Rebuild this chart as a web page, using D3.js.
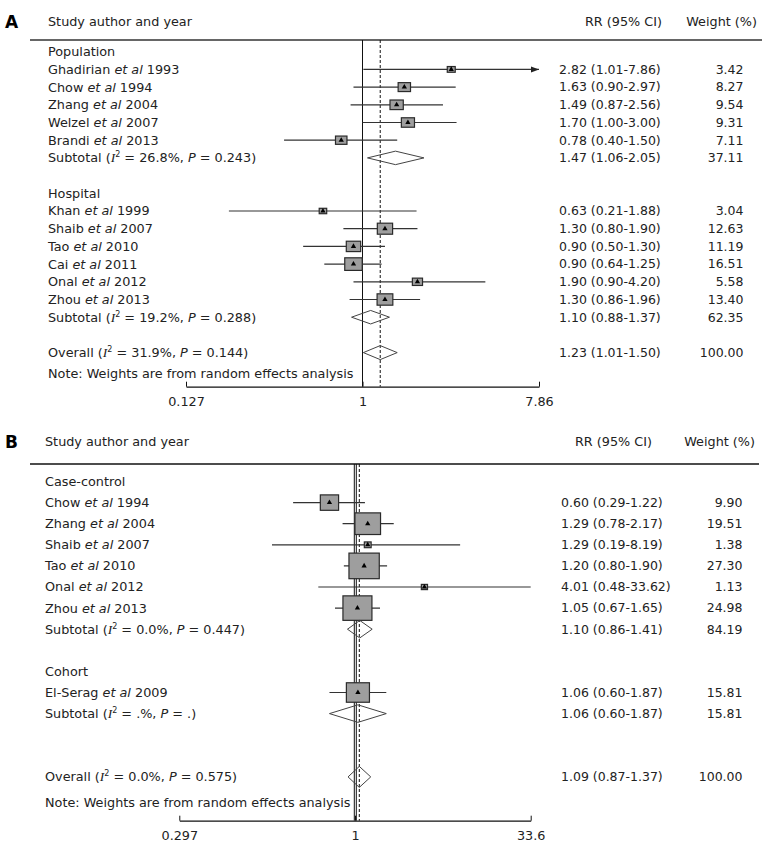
<!DOCTYPE html>
<html><head><meta charset="utf-8">
<script src="https://cdn.jsdelivr.net/npm/d3@7"></script>
<style>body{margin:0;background:#fff}svg{display:block}</style>
</head><body><svg id="c" width="768" height="854"></svg>
<script>
// ---------- Panel A data ----------
const groupsA = ["Population", "Hospital"];
const authorsA = ["Ghadirian", "Chow", "Zhang", "Welzel", "Brandi", "Khan", "Shaib", "Tao", "Cai", "Onal", "Zhou"];
const yearsA = [1993, 1994, 2004, 2007, 2013, 1999, 2007, 2010, 2011, 2012, 2013];
const studyGroupA = ["Population", "Population", "Population", "Population", "Population", "Hospital", "Hospital", "Hospital", "Hospital", "Hospital", "Hospital"];
const rrA = [2.82, 1.63, 1.49, 1.70, 0.78, 0.63, 1.30, 0.90, 0.90, 1.90, 1.30];
const loA = [1.01, 0.90, 0.87, 1.00, 0.40, 0.21, 0.80, 0.50, 0.64, 0.90, 0.86];
const hiA = [7.86, 2.97, 2.56, 3.00, 1.50, 1.88, 1.90, 1.30, 1.25, 4.20, 1.96];
const weightA = [3.42, 8.27, 9.54, 9.31, 7.11, 3.04, 12.63, 11.19, 16.51, 5.58, 13.40];
const arrowA = ["Ghadirian"];
const subRRA = [1.47, 1.10], subLoA = [1.06, 0.88], subHiA = [2.05, 1.37], subWA = [37.11, 62.35];
const subI2A = ["26.8%", "19.2%"], subPA = ["0.243", "0.288"];
const overallA = {rr: 1.23, lo: 1.01, hi: 1.50, w: 100.00, i2: "31.9%", p: "0.144"};
const tickValuesA = [1 / 7.86, 1, 7.86];
const tickLabelsA = ["0.127", "1", "7.86"];

// ---------- Panel B data ----------
const groupsB = ["Case-control", "Cohort"];
const authorsB = ["Chow", "Zhang", "Shaib", "Tao", "Onal", "Zhou", "El-Serag"];
const yearsB = [1994, 2004, 2007, 2010, 2012, 2013, 2009];
const studyGroupB = ["Case-control", "Case-control", "Case-control", "Case-control", "Case-control", "Case-control", "Cohort"];
const rrB = [0.60, 1.29, 1.29, 1.20, 4.01, 1.05, 1.06];
const loB = [0.29, 0.78, 0.19, 0.80, 0.48, 0.67, 0.60];
const hiB = [1.22, 2.17, 8.19, 1.90, 33.62, 1.65, 1.87];
const weightB = [9.90, 19.51, 1.38, 27.30, 1.13, 24.98, 15.81];
const arrowB = [];
const subRRB = [1.10, 1.06], subLoB = [0.86, 0.60], subHiB = [1.41, 1.87], subWB = [84.19, 15.81];
const subI2B = ["0.0%", ".%"], subPB = ["0.447", "."];
const overallB = {rr: 1.09, lo: 0.87, hi: 1.37, w: 100.00, i2: "0.0%", p: "0.575"};
const tickValuesB = [1 / 33.6, 1, 33.6];
const tickLabelsB = ["0.297", "1", "33.6"];

const svg = d3.select("#c");
const FONT = "DejaVu Sans, Verdana, sans-serif";
const FS = "12.8px";

function buildRows(p) {
  const rows = []; let r = 0;
  p.groups.forEach((g, gi) => {
    rows.push({type: "group", label: g, row: r++});
    p.authors.forEach((a, i) => {
      if (p.studyGroup[i] === g) rows.push({type: "study", author: a, year: p.years[i], rr: p.rr[i], lo: p.lo[i], hi: p.hi[i], w: p.weight[i], arrow: p.arrow.includes(a), row: r++});
    });
    rows.push({type: "sub", i2: p.subI2[gi], pv: p.subP[gi], rr: p.subRR[gi], lo: p.subLo[gi], hi: p.subHi[gi], w: p.subW[gi], row: r++});
    r += 1;
  });
  r += p.extraGap;
  rows.push({type: "overall", i2: p.overall.i2, pv: p.overall.p, rr: p.overall.rr, lo: p.overall.lo, hi: p.overall.hi, w: p.overall.w, row: r++});
  return rows;
}

function statLabel(t, prefix, i2, pv) {
  t.append("tspan").text(prefix + " (");
  t.append("tspan").attr("font-style", "italic").attr("font-family", "Liberation Serif, serif").attr("font-size", "13.5px").text("I");
  t.append("tspan").attr("font-size", "8px").attr("dy", "-5").text("2");
  t.append("tspan").attr("dy", "5").text(" = " + i2 + ", ");
  t.append("tspan").attr("font-style", "italic").text("P");
  t.append("tspan").text(" = " + pv + ")");
}

function drawPanel(p) {
  const g = svg.append("g");
  const rows = buildRows(p);
  const x = d3.scaleLog().domain([p.tickValues[0], p.tickValues[2]]).range(p.xRange);
  const y = d3.scaleLinear().domain([0, 1]).range([p.y0, p.y0 + p.step]);

  g.append("text").attr("x", 5).attr("y", p.headY + 6).attr("font-family", FONT).attr("font-weight", "bold").attr("font-size", "17px").text(p.letter);
  g.append("text").attr("x", p.textX).attr("y", p.headY).attr("dy", "0.35em").attr("font-family", FONT).attr("font-size", FS).attr("fill", "#222").text("Study author and year");
  g.append("text").attr("x", p.rrHeadX).attr("y", p.headY).attr("dy", "0.35em").attr("text-anchor", "end").attr("font-family", FONT).attr("font-size", FS).attr("fill", "#222").text("RR (95% CI)");
  g.append("text").attr("x", p.wHeadX).attr("y", p.headY).attr("dy", "0.35em").attr("text-anchor", "end").attr("font-family", FONT).attr("font-size", FS).attr("fill", "#222").text("Weight (%)");
  g.append("line").attr("x1", 30).attr("x2", p.lineEnd).attr("y1", p.lineY).attr("y2", p.lineY).attr("stroke", p.lineColor).attr("stroke-width", p.lineW);

  p.nullOffsets.forEach(o => {
    g.append("line").attr("x1", x(1) + o).attr("x2", x(1) + o).attr("y1", p.lineY).attr("y2", p.axisY).attr("stroke", "#111").attr("stroke-width", 1);
  });
  g.append("line").attr("x1", x(p.overall.rr)).attr("x2", x(p.overall.rr)).attr("y1", p.lineY).attr("y2", p.axisY).attr("stroke", "#111").attr("stroke-width", 1).attr("stroke-dasharray", "3,2");

  const axis = d3.axisBottom(x).tickValues(p.tickValues).tickFormat((d, i) => p.tickLabels[i]).tickSizeInner(-5).tickSizeOuter(0).tickPadding(10);
  const ag = g.append("g").attr("transform", `translate(0,${p.axisY})`).call(axis);
  ag.select(".domain").attr("stroke", "#111").attr("stroke-width", 1.3);
  ag.selectAll(".tick line").attr("stroke", "#111");
  ag.selectAll(".tick text").attr("font-family", FONT).attr("font-size", FS).attr("fill", "#222");

  rows.forEach(d => {
    const t = g.append("text").attr("x", p.textX).attr("y", y(d.row)).attr("dy", "0.35em").attr("font-family", FONT).attr("font-size", FS).attr("fill", "#222");
    if (d.type === "group") t.text(d.label);
    else if (d.type === "study") {
      t.append("tspan").text(d.author + " ");
      t.append("tspan").attr("font-style", "italic").text("et al");
      t.append("tspan").text(" " + d.year);
    } else statLabel(t, d.type === "sub" ? "Subtotal" : "Overall", d.i2, d.pv);
    if (d.type !== "group") {
      g.append("text").attr("x", p.rrX).attr("y", y(d.row)).attr("dy", "0.35em").attr("font-family", FONT).attr("font-size", "12.5px").attr("fill", "#222")
        .text(`${d.rr.toFixed(2)} (${d.lo.toFixed(2)}-${d.hi.toFixed(2)})`);
      g.append("text").attr("x", p.wX).attr("y", y(d.row)).attr("dy", "0.35em").attr("text-anchor", "end").attr("font-family", FONT).attr("font-size", "12.5px").attr("fill", "#222")
        .text(d.w.toFixed(2));
    }
  });
  g.append("text").attr("x", p.textX).attr("y", y(p.noteRow)).attr("dy", "0.35em").attr("font-family", FONT).attr("font-size", FS).attr("fill", "#222").text("Note: Weights are from random effects analysis");

  const studies = rows.filter(d => d.type === "study");
  studies.forEach(d => {
    const yy = y(d.row);
    g.append("line").attr("x1", x(d.lo)).attr("x2", x(Math.min(d.hi, p.tickValues[2]))).attr("y1", yy).attr("y2", yy).attr("stroke", "#333").attr("stroke-width", 1.2);
    if (d.arrow) {
      const xe = x(p.tickValues[2]);
      g.append("path").attr("d", `M${xe},${yy} L${xe - 8},${yy - 3} L${xe - 8},${yy + 3} Z`).attr("fill", "#222");
    }
  });
  studies.forEach(d => {
    const yy = y(d.row), s = Math.sqrt(d.w);
    const bw = p.boxW * s, bh = p.boxH * s;
    g.append("rect").attr("x", x(d.rr) - bw / 2).attr("y", yy - bh / 2).attr("width", bw).attr("height", bh).attr("fill", "#9e9e9e").attr("stroke", "#2a2a2a").attr("stroke-width", 1.2);
    g.append("path").attr("d", d3.symbol(d3.symbolTriangle, 12)()).attr("transform", `translate(${x(d.rr)},${yy})`).attr("fill", "#000");
  });
  rows.filter(d => d.type === "sub" || d.type === "overall").forEach(d => {
    const yy = y(d.row);
    const h = d.type === "overall" ? p.diaHO : p.diaH;
    g.append("path").attr("d", `M${x(d.lo)},${yy} L${x(d.rr)},${yy - h / 2} L${x(d.hi)},${yy} L${x(d.rr)},${yy + h / 2} Z`)
      .attr("fill", "none").attr("stroke", "#444").attr("stroke-width", 1);
  });
}

drawPanel({
  letter: "A", groups: groupsA, authors: authorsA, years: yearsA, studyGroup: studyGroupA, rr: rrA, lo: loA, hi: hiA, weight: weightA, arrow: arrowA,
  subRR: subRRA, subLo: subLoA, subHi: subHiA, subW: subWA, subI2: subI2A, subP: subPA, overall: overallA,
  tickValues: tickValuesA, tickLabels: tickLabelsA, extraGap: 0, noteRow: 18.2,
  xRange: [186, 539], y0: 51.7, step: 17.7, headY: 22, lineY: 40, axisY: 386.7, lineEnd: 762, lineColor: "#666", lineW: 2,
  textX: 48, rrX: 559, wX: 743.5, rrHeadX: 662, wHeadX: 757, nullOffsets: [0],
  boxW: 4.3, boxH: 3.1, diaH: 13.5, diaHO: 14
});
drawPanel({
  letter: "B", groups: groupsB, authors: authorsB, years: yearsB, studyGroup: studyGroupB, rr: rrB, lo: loB, hi: hiB, weight: weightB, arrow: arrowB,
  subRR: subRRB, subLo: subLoB, subHi: subHiB, subW: subWB, subI2: subI2B, subP: subPB, overall: overallB,
  tickValues: tickValuesB, tickLabels: tickLabelsB, extraGap: 1, noteRow: 15.2,
  xRange: [179.3, 530.7], y0: 481.5, step: 21.1, headY: 442, lineY: 464, axisY: 820.7, lineEnd: 759, lineColor: "#111", lineW: 1.5,
  textX: 45, rrX: 561, wX: 742.5, rrHeadX: 652, wHeadX: 755, nullOffsets: [-0.7, 1.3],
  boxW: 5.8, boxH: 4.9, diaH: 17.5, diaHO: 21
});
</script></body></html>
